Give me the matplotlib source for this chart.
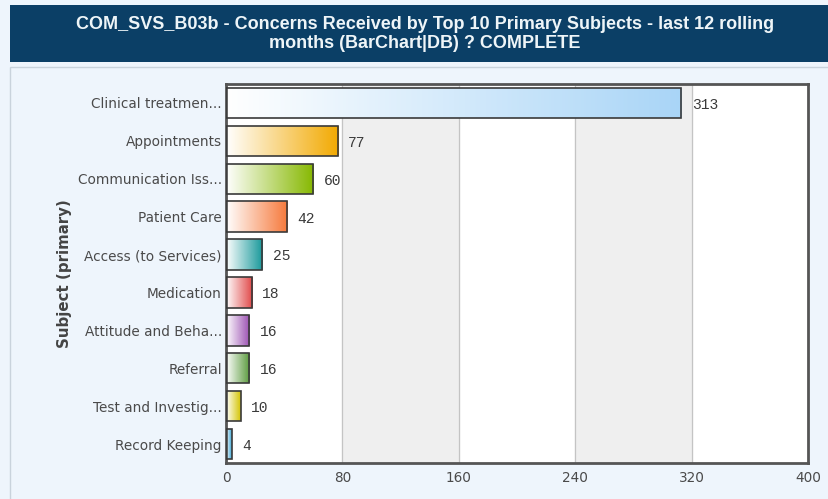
import numpy as np
import matplotlib.pyplot as plt
from matplotlib.colors import LinearSegmentedColormap
from matplotlib.patches import Rectangle

subjects = ["Clinical treatmen...", "Appointments", "Communication Iss...", "Patient Care",
            "Access (to Services)", "Medication", "Attitude and Beha...", "Referral",
            "Test and Investig...", "Record Keeping"]
counts = [313, 77, 60, 42, 25, 18, 16, 16, 10, 4]
bar_colors = ["#a9d5f7", "#f2a900", "#86b800", "#f6783a", "#17989a",
              "#e04646", "#9b4fb2", "#5a9a3c", "#d4c400", "#3aa6d6"]
xticks = [0, 80, 160, 240, 320, 400]

title = "COM_SVS_B03b - Concerns Received by Top 10 Primary Subjects - last 12 rolling\nmonths (BarChart|DB) ? COMPLETE"

fig = plt.figure(figsize=(8.29, 4.99), dpi=100)
fig.patch.set_facecolor("#eef5fc")

# header band
fig.patches.append(Rectangle((10 / 829, 1 - 62 / 499), 1, 57 / 499, transform=fig.transFigure,
                             facecolor="#0b3f66", edgecolor="none", zorder=0))
fig.patches.append(Rectangle((10 / 829, -0.01), 1, 1 - 62 / 499, transform=fig.transFigure,
                             facecolor="none", edgecolor="#c9d3dc", linewidth=1, zorder=0))
fig.text(425 / 829, 1 - 34 / 499, title, ha="center", va="center", color="#eef5f8",
         fontsize=13, fontweight="bold", family="Liberation Sans",
         linespacing=1.08, transform=fig.transFigure)

ax = fig.add_axes([226 / 829, 1 - 463 / 499, 582 / 829, 379 / 499])
ax.set_facecolor("white")
y = np.arange(len(subjects))

# alternating bands and grid
for i in range(len(xticks) - 1):
    if i % 2 == 1:
        ax.axvspan(xticks[i], xticks[i + 1], color="#efefef", zorder=0)
for t in xticks[1:-1]:
    ax.axvline(t, color="#c4c4c4", linewidth=0.9, zorder=1)

h = 0.8
grad = np.linspace(0, 1, 256).reshape(1, -1)
for yi, v, c in zip(y, counts, bar_colors):
    cmap = LinearSegmentedColormap.from_list("g", ["#ffffff", c])
    rect = Rectangle((0, yi - h / 2), v, h, facecolor="none", edgecolor="#3a3a3a",
                     linewidth=1.2, zorder=3)
    ax.add_patch(rect)
    im = ax.imshow(grad, cmap=cmap, aspect="auto", extent=(0, v, yi + h / 2, yi - h / 2),
                   zorder=2, interpolation="bilinear")
    im.set_clip_path(rect)
    ax.text(v + 7, yi + 0.05, str(v), va="center", ha="left", fontsize=10.5,
            family="Liberation Mono", color="#3a3a3a", zorder=4)

ax.set_xlim(0, 400)
ax.set_ylim(len(subjects) - 0.5, -0.5)
ax.set_yticks(y)
ax.set_yticklabels(subjects)
ax.set_xticks(xticks)
ax.tick_params(axis="both", length=0, labelsize=9.8, colors="#4a4a4a")
ax.tick_params(axis="y", pad=3)
ax.tick_params(axis="x", pad=6)
for s in ax.spines.values():
    s.set_color("#555555")
    s.set_linewidth(2)

ax.set_ylabel("Subject (primary)", fontsize=10.8, fontweight="bold", color="#444444", labelpad=4)

fig.savefig("out.png", dpi=100, facecolor=fig.get_facecolor())
